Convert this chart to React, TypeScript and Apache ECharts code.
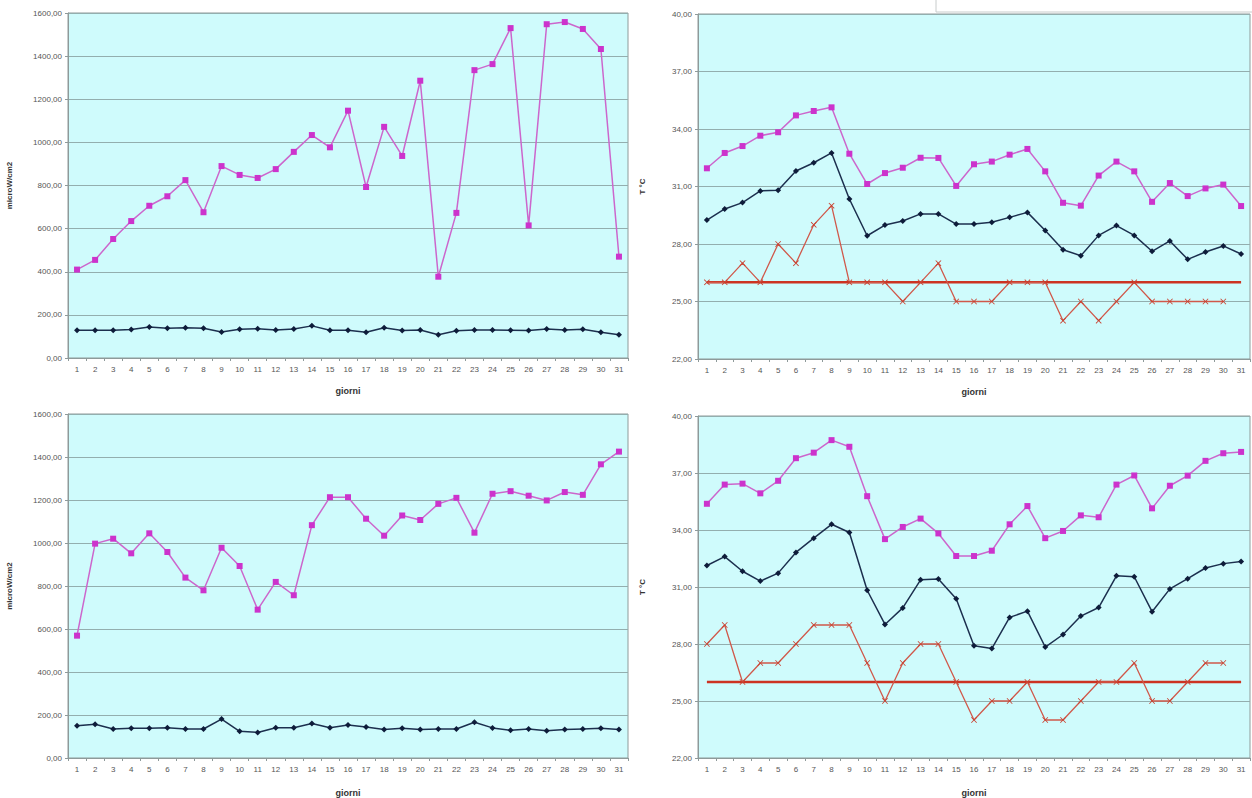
import React, { useEffect, useRef } from "react";
import * as echarts from "echarts";

const days = ["1","2","3","4","5","6","7","8","9","10","11","12","13","14","15","16","17","18","19","20","21","22","23","24","25","26","27","28","29","30","31"];

// Irradiance (microW/cm2)
const uvTopHigh = [410,455,552,635,706,750,825,676,890,849,835,876,956,1034,977,1147,793,1072,937,1286,377,673,1335,1363,1530,615,1548,1558,1526,1433,470];
const uvTopLow = [129,129,129,132,144,138,140,138,121,133,136,130,135,149,129,129,119,140,127,130,108,126,130,130,129,127,135,130,133,119,108];
const uvBotHigh = [569,997,1020,952,1045,958,839,780,978,893,690,819,757,1083,1213,1213,1113,1034,1128,1107,1182,1210,1048,1229,1241,1220,1198,1237,1224,1366,1425];
const uvBotLow = [150,157,135,138,138,141,135,135,181,124,119,141,141,160,141,153,144,133,138,132,135,135,166,140,129,135,127,132,135,138,133];

// Temperature (T °C)
const tTopMax = [31.95,32.75,33.11,33.65,33.83,34.71,34.94,35.13,32.71,31.13,31.7,31.98,32.5,32.49,31.03,32.16,32.3,32.66,32.96,31.79,30.15,30.0,31.57,32.3,31.79,30.2,31.18,30.5,30.9,31.1,29.98];
const tTopMid = [29.25,29.83,30.16,30.77,30.8,31.81,32.24,32.75,30.35,28.43,28.99,29.2,29.57,29.57,29.04,29.04,29.13,29.39,29.65,28.7,27.7,27.39,28.45,28.96,28.45,27.62,28.16,27.2,27.58,27.9,27.48];
const tTopMin = [26,26,27,26,28,27,29,30,26,26,26,25,26,27,25,25,25,26,26,26,24,25,24,25,26,25,25,25,25,25,null];
const tBotMax = [35.38,36.39,36.44,35.93,36.59,37.78,38.07,38.73,38.38,35.78,33.52,34.16,34.6,33.82,32.63,32.63,32.91,34.3,35.26,33.57,33.95,34.77,34.67,36.39,36.87,35.14,36.33,36.86,37.64,38.04,38.11];
const tBotMid = [32.13,32.6,31.83,31.31,31.73,32.82,33.57,34.3,33.87,30.83,29.03,29.9,31.38,31.42,30.38,27.91,27.76,29.4,29.73,27.84,28.5,29.47,29.92,31.59,31.54,29.7,30.9,31.44,32.0,32.23,32.34];
const tBotMin = [28,29,26,27,27,28,29,29,29,27,25,27,28,28,26,24,25,25,26,24,24,25,26,26,27,25,25,26,27,27,null];
const tLimit = [26,26,26,26,26,26,26,26,26,26,26,26,26,26,26,26,26,26,26,26,26,26,26,26,26,26,26,26,26,26,26];

const uvAxis = { min: 0, max: 1600, interval: 200 };
const tAxis = { min: 22, max: 40, interval: 3 };

const FONT = "Liberation Sans";
const X_SYMBOL = "path://M0,1 L1,0 L5,4 L9,0 L10,1 L6,5 L10,9 L9,10 L5,6 L1,10 L0,9 L4,5 Z";

function fmt(v: number) {
  return v.toFixed(2).replace(".", ",");
}

export default function App() {
  const ref = useRef<HTMLDivElement>(null);
  useEffect(() => {
    if (!ref.current) return;
    const chart = echarts.init(ref.current, null, { renderer: "svg" });
    const grids = [
      { left: 68, top: 13, width: 560, height: 345 },
      { left: 698, top: 14, width: 552, height: 345 },
      { left: 68, top: 414, width: 560, height: 345 },
      { left: 698, top: 416, width: 552, height: 344 },
    ].map((g) => ({
      ...g,
      show: true,
      backgroundColor: "#CFFBFC",
      borderColor: "#8E9A9A",
      borderWidth: 1,
    }));

    const xAxes = [0, 1, 2, 3].map((i) => ({
      type: "category",
      gridIndex: i,
      data: days,
      boundaryGap: true,
      name: "giorni",
      nameLocation: "middle",
      nameGap: i < 2 ? 28 : 30,
      nameTextStyle: { fontFamily: FONT, fontSize: 9, fontWeight: "bold", color: "#333" },
      axisLine: { lineStyle: { color: "#8E9A9A" } },
      axisTick: { show: true, length: 3, lineStyle: { color: "#8E9A9A" } },
      axisLabel: { fontFamily: FONT, fontSize: 8, color: "#555", margin: 7, interval: 0 },
    }));

    const yAxes = [0, 1, 2, 3].map((i) => {
      const isT = i % 2 === 1;
      const ax = isT ? tAxis : uvAxis;
      return {
        type: "value",
        gridIndex: i,
        min: ax.min,
        max: ax.max,
        interval: ax.interval,
        name: isT ? "T °C" : "microW/cm2",
        nameLocation: "middle",
        nameGap: isT ? 52 : 55,
        nameRotate: 90,
        nameTextStyle: { fontFamily: FONT, fontSize: 8, fontWeight: "bold", color: "#333" },
        axisLine: { show: true, lineStyle: { color: "#8E9A9A" } },
        axisTick: { show: true, length: 3, lineStyle: { color: "#8E9A9A" } },
        splitLine: { show: true, lineStyle: { color: "#93AEAE", width: 1 } },
        axisLabel: { fontFamily: FONT, fontSize: 8, color: "#555", margin: 6, formatter: (v: number) => fmt(v) },
      };
    });

    const high = (data: number[], i: number) => ({
      type: "line",
      xAxisIndex: i,
      yAxisIndex: i,
      data,
      symbol: "rect",
      symbolSize: 6,
      lineStyle: { color: "#CC66CC", width: 1.5 },
      itemStyle: { color: "#CC33CC" },
    });
    const low = (data: number[], i: number) => ({
      type: "line",
      xAxisIndex: i,
      yAxisIndex: i,
      data,
      symbol: "diamond",
      symbolSize: 6,
      lineStyle: { color: "#1C2F4E", width: 1.5 },
      itemStyle: { color: "#0E1C3A" },
    });
    const minT = (data: (number | null)[], i: number) => ({
      type: "line",
      xAxisIndex: i,
      yAxisIndex: i,
      data,
      symbol: X_SYMBOL,
      symbolSize: 6,
      lineStyle: { color: "#D0584A", width: 1.3 },
      itemStyle: { color: "#C8402F" },
    });
    const limit = (i: number) => ({
      type: "line",
      xAxisIndex: i,
      yAxisIndex: i,
      data: tLimit,
      symbol: "none",
      lineStyle: { color: "#CC3322", width: 2.5 },
    });

    chart.setOption({
      animation: false,
      backgroundColor: "#ffffff",
      grid: grids,
      xAxis: xAxes,
      yAxis: yAxes,
      graphic: [
        { type: "rect", shape: { x: 936, y: -2, width: 320, height: 14 }, style: { fill: "#ffffff", stroke: "#C8CCCC", lineWidth: 1 }, z: 100 },
      ],
      series: [
        high(uvTopHigh, 0),
        low(uvTopLow, 0),
        limit(1),
        minT(tTopMin, 1),
        low(tTopMid, 1),
        high(tTopMax, 1),
        high(uvBotHigh, 2),
        low(uvBotLow, 2),
        limit(3),
        minT(tBotMin, 3),
        low(tBotMid, 3),
        high(tBotMax, 3),
      ],
    });
    return () => chart.dispose();
  }, []);
  return (
    <div
      ref={ref}
      style={{ position: "absolute", left: 0, top: 0, width: 1252, height: 798 }}
    />
  );
}
